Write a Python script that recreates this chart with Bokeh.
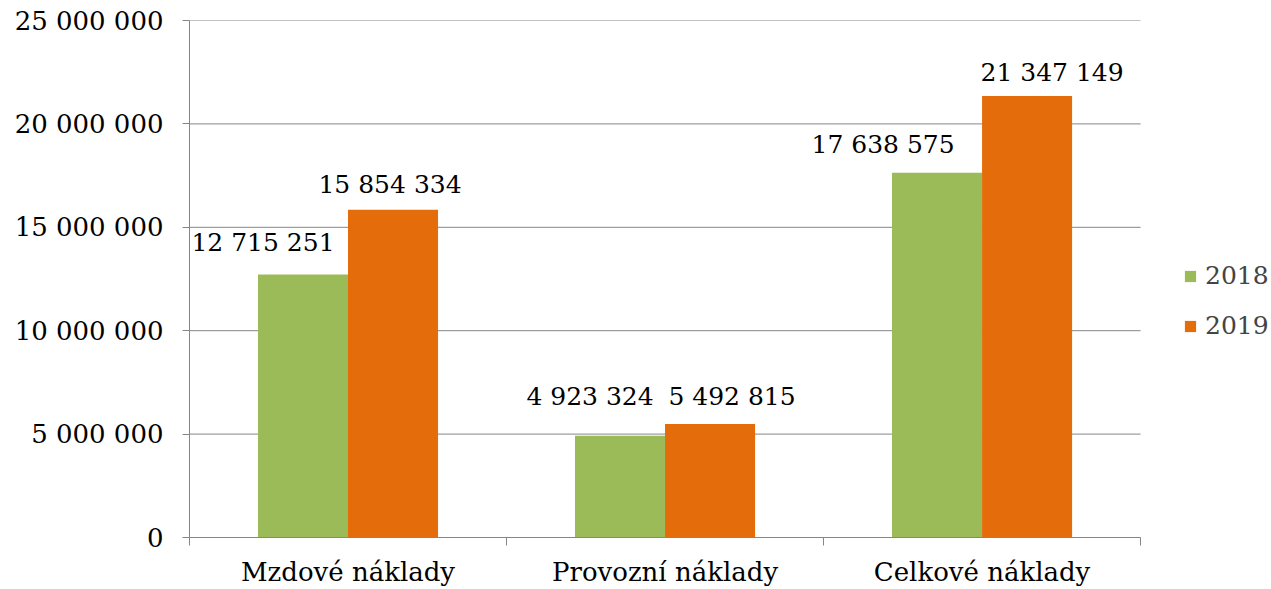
import numpy as np
from bokeh.plotting import figure
from bokeh.models import ColumnDataSource, FixedTicker, Range1d, Legend, LegendItem
from bokeh.transform import dodge
from bokeh.core.properties import value
from bokeh.embed import file_html
from bokeh.resources import INLINE

# ---- data ----
categories = ["Mzdové náklady", "Provozní náklady", "Celkové náklady"]
series = ["2018", "2019"]
values_2018 = [12715251, 4923324, 17638575]
values_2019 = [15854334, 5492815, 21347149]
y_ticks = [0, 5000000, 10000000, 15000000, 20000000, 25000000]

# ---- styles ----
FONT = "DejaVu Serif"
FS = "25px"
FS_AX = "26px"
GREEN = "#9BBB59"
ORANGE = "#E46C0A"
GRAY = "#868686"
BAR_W = 0.284
LEGEND_SPACE = 0.413   # extra x-range (category units) right of the chart for the legend
# per-label screen offsets (style only)
dx_2018 = [-40, -30, -54]
dx_2019 = [-3, 22, 25]
dy_2018 = [32, 39, 28]
dy_2019 = [25, 27, 24]

def fmt(v):
    return f"{v:,}".replace(",", " ")

n = len(categories)
centers = list(np.arange(n) + 0.5)
bounds = list(range(n + 1))
src = ColumnDataSource(dict(
    x=centers,
    v18=values_2018, v19=values_2019,
    t18=[fmt(v) for v in values_2018], t19=[fmt(v) for v in values_2019],
    dx18=dx_2018, dx19=dx_2019,
    dy18=[-d for d in dy_2018], dy19=[-d for d in dy_2019],
))
grid_src = ColumnDataSource(dict(y=y_ticks, x0=[0] * len(y_ticks), x1=[n] * len(y_ticks)))

p = figure(width=1271, height=589, output_backend="svg", toolbar_location=None,
           x_range=Range1d(0, n + LEGEND_SPACE), y_range=Range1d(0, y_ticks[-1]),
           min_border_left=189, min_border_right=0, min_border_top=20,
           min_border_bottom=50)
p.outline_line_color = None
p.background_fill_color = "white"
p.border_fill_color = "white"

# horizontal gridlines limited to the category area
p.segment(x0="x0", x1="x1", y0="y", y1="y", source=grid_src, line_color=GRAY, line_width=1)

r18 = p.vbar(x=dodge("x", -BAR_W / 2, range=p.x_range), top="v18", width=BAR_W,
             source=src, fill_color=GREEN, line_color=None)
r19 = p.vbar(x=dodge("x", BAR_W / 2, range=p.x_range), top="v19", width=BAR_W,
             source=src, fill_color=ORANGE, line_color=None)

p.text(x=dodge("x", -BAR_W / 2, range=p.x_range), y="v18", text="t18", source=src,
       x_offset="dx18", y_offset="dy18", text_align="center", text_baseline="middle",
       text_font=value(FONT), text_font_size=FS, text_color="black")
p.text(x=dodge("x", BAR_W / 2, range=p.x_range), y="v19", text="t19", source=src,
       x_offset="dx19", y_offset="dy19", text_align="center", text_baseline="middle",
       text_font=value(FONT), text_font_size=FS, text_color="black")

# y axis
yax = p.yaxis[0]
yax.ticker = FixedTicker(ticks=y_ticks)
yax.major_label_overrides = {t: fmt(t) for t in y_ticks}
yax.axis_line_color = GRAY
yax.major_tick_line_color = GRAY
yax.major_tick_out = 7
yax.major_tick_in = 0
yax.minor_tick_line_color = None
yax.major_label_standoff = 19
yax.major_label_text_font = FONT
yax.major_label_text_font_size = FS_AX
yax.major_label_text_color = "black"

# x axis: labels at category centres, ticks at category boundaries
xax = p.xaxis[0]
xax.bounds = (0, n)
xax.ticker = FixedTicker(ticks=centers, minor_ticks=bounds)
xax.major_label_overrides = {c: name for c, name in zip(centers, categories)}
xax.major_label_text_font = FONT
xax.major_label_text_font_size = FS_AX
xax.major_label_text_color = "black"
xax.major_label_standoff = 11
xax.axis_line_color = GRAY
xax.major_tick_line_color = None
xax.major_tick_out = 0
xax.major_tick_in = 0
xax.minor_tick_line_color = GRAY
xax.minor_tick_out = 8
xax.minor_tick_in = 0

p.xgrid.grid_line_color = None
p.ygrid.grid_line_color = None

legend = Legend(items=[LegendItem(label=series[0], renderers=[r18]),
                       LegendItem(label=series[1], renderers=[r19])],
                location=(994, 197), orientation="vertical",
                glyph_width=14, glyph_height=14, label_height=28, spacing=21,
                padding=0, margin=0, label_standoff=8,
                border_line_color=None, background_fill_alpha=0,
                label_text_font=FONT, label_text_font_size=FS)
p.add_layout(legend)

open("out.html", "w").write(file_html(p, INLINE))
